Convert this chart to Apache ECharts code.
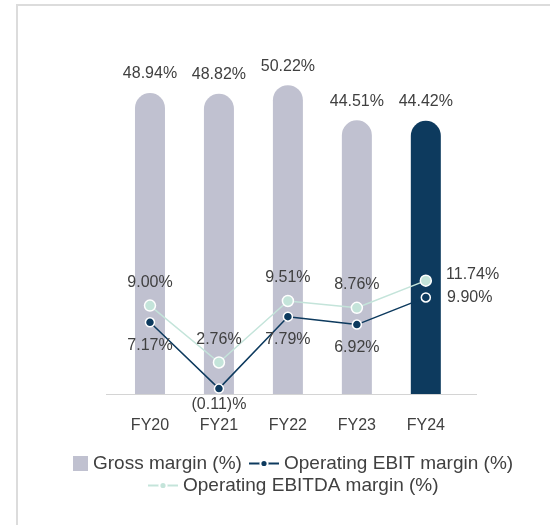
<!DOCTYPE html>
<html>
<head>
<meta charset="utf-8">
<script src="https://cdn.jsdelivr.net/npm/echarts@6/dist/echarts.min.js"></script>
<style>
    html, body { margin: 0; padding: 0; background: #fff; }
    #chart { width: 550px; height: 525px; }
</style>
</head>
<body>
<div id="chart"></div>
<script>
var years = ['FY20', 'FY21', 'FY22', 'FY23', 'FY24'];
var grossMargin = [48.94, 48.82, 50.22, 44.51, 44.42];
var ebitMargin = [7.17, -0.11, 7.79, 6.92, 9.90];
var ebitdaMargin = [9.00, 2.76, 9.51, 8.76, 11.74];

var GRAY = '#c0c1d0', NAVY = '#0d3a5e', MINT = '#c4e4da', TXT = '#404040';
var FONT = '"Liberation Sans", Arial, sans-serif';

// 百分比格式，负数用括号
function pct(v) {
    return v < 0 ? '(' + Math.abs(v).toFixed(2) + ')%' : v.toFixed(2) + '%';
}

var last = years.length - 1;

var option = {
    backgroundColor: '#fff',
    textStyle: { fontFamily: FONT },
    animation: false,
    grid: { left: 115.5, right: 89.7, top: 25, bottom: 131 },
    xAxis: {
        type: 'category',
        data: years,
        axisLine: { show: false },
        axisTick: { show: false },
        axisLabel: { color: TXT, fontSize: 16, margin: 24, fontFamily: FONT }
    },
    yAxis: [
        { type: 'value', min: 0, max: 60, show: false },
        { type: 'value', min: -0.7, max: 39.8, show: false }
    ],
    legend: [
        {
            left: 68, top: 449, itemWidth: 15, itemHeight: 15, icon: 'rect',
            textStyle: { color: TXT, fontSize: 19, fontFamily: FONT },
            data: [{ name: 'Gross margin (%)', itemStyle: { color: GRAY } }]
        },
        {
            left: 243, top: 449, itemWidth: 30, itemHeight: 9,
            textStyle: { color: TXT, fontSize: 19, fontFamily: FONT },
            data: ['Operating EBIT margin (%)']
        },
        {
            left: 142, top: 471, itemWidth: 30, itemHeight: 9,
            textStyle: { color: TXT, fontSize: 19, fontFamily: FONT },
            data: ['Operating EBITDA margin (%)']
        }
    ],
    graphic: [
        {
            type: 'polyline', silent: true,
            shape: { points: [[17, 525], [17, 5], [550, 5]] },
            style: { stroke: '#dcdcdc', lineWidth: 2, fill: null }
        },
        {
            type: 'line', silent: true,
            shape: { x1: 106, y1: 394.5, x2: 477, y2: 394.5 },
            style: { stroke: '#d4d4d4', lineWidth: 1 }
        }
    ],
    series: [
        {
            name: 'Gross margin (%)',
            type: 'bar',
            data: grossMargin,
            barWidth: 30,
            itemStyle: {
                borderRadius: [15, 15, 0, 0],
                color: function (p) { return p.dataIndex === last ? NAVY : GRAY; }
            },
            label: {
                show: true, position: 'top', distance: 11,
                color: TXT, fontSize: 16, fontFamily: FONT,
                formatter: function (p) { return pct(p.value); }
            }
        },
        {
            name: 'Operating EBIT margin (%)',
            type: 'line',
            yAxisIndex: 1,
            data: ebitMargin.map(function (v, i) {
                if (i === last) return { value: v, label: { position: 'right', distance: 16 } };
                if (v < 0) return { value: v, label: { distance: 3 } };
                return v;
            }),
            symbol: 'circle', symbolSize: 9,
            lineStyle: { color: NAVY, width: 1.5 },
            itemStyle: { color: NAVY, borderColor: '#fff', borderWidth: 1.5 },
            label: {
                show: true, position: 'bottom', distance: 10,
                color: TXT, fontSize: 16, fontFamily: FONT,
                formatter: function (p) { return pct(p.value); }
            },
            z: 3
        },
        {
            name: 'Operating EBITDA margin (%)',
            type: 'line',
            yAxisIndex: 1,
            data: ebitdaMargin.map(function (v, i) {
                return i === last ? { value: v, label: { position: 'right', distance: 14, offset: [0, -6] } } : v;
            }),
            symbol: 'circle', symbolSize: 11,
            lineStyle: { color: MINT, width: 1.5 },
            itemStyle: { color: MINT, borderColor: '#fff', borderWidth: 1.5 },
            label: {
                show: true, position: 'top', distance: 9,
                color: TXT, fontSize: 16, fontFamily: FONT,
                formatter: function (p) { return pct(p.value); }
            },
            z: 4
        }
    ]
};

var chart = echarts.init(document.getElementById('chart'));
chart.setOption(option);
</script>
</body>
</html>
